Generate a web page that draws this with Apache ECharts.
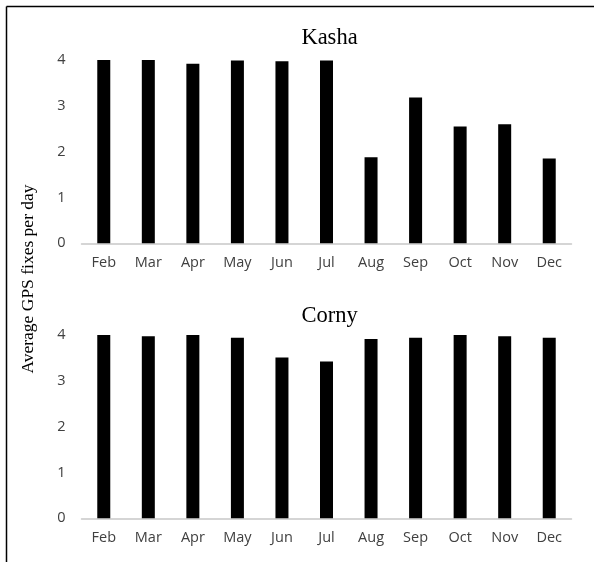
<!DOCTYPE html>
<html>
<head>
<meta charset="utf-8">
<script src="https://cdn.jsdelivr.net/npm/echarts@6/dist/echarts.min.js"></script>
<style>
html,body{margin:0;padding:0;background:#fff;}
#chart{width:594px;height:562px;}
</style>
</head>
<body>
<div id="chart"></div>
<script>
const months = ['Feb','Mar','Apr','May','Jun','Jul','Aug','Sep','Oct','Nov','Dec'];
const kasha = [4.0, 4.0, 3.92, 3.99, 3.97, 3.99, 1.88, 3.18, 2.55, 2.60, 1.85];
const corny = [4.0, 3.97, 4.0, 3.94, 3.51, 3.42, 3.91, 3.94, 4.0, 3.97, 3.94];
const yTicks = [0, 1, 2, 3, 4];
const panelTitles = ['Kasha', 'Corny'];
const yAxisTitle = 'Average GPS fixes per day';

const chart = echarts.init(document.getElementById('chart'), null, {renderer: 'canvas'});

const labelFont = {color: '#404040', fontFamily: 'Open Sans, Liberation Sans, sans-serif', fontSize: 14.5};

function xAxis(idx) {
  return {
    type: 'category', gridIndex: idx, data: months,
    axisLine: {show: true, lineStyle: {color: '#c8c8c8', width: 1.5}},
    axisTick: {show: false},
    axisLabel: Object.assign({margin: 12.5}, labelFont),
    splitLine: {show: false}
  };
}
function yAxis(idx) {
  return {
    type: 'value', gridIndex: idx, min: yTicks[0], max: yTicks[yTicks.length - 1], interval: 1,
    axisLine: {show: false}, axisTick: {show: false},
    axisLabel: Object.assign({margin: 16}, labelFont),
    splitLine: {show: false}
  };
}

const serif = '"Liberation Serif", "Times New Roman", serif';

chart.setOption({
  animation: false,
  backgroundColor: '#fff',
  grid: [
    {left: 81.5, right: 22.5, top: 60, bottom: 318.7},
    {left: 81.5, right: 22.5, top: 335, bottom: 43.7}
  ],
  xAxis: [xAxis(0), xAxis(1)],
  yAxis: [yAxis(0), yAxis(1)],
  series: [
    {type: 'bar', xAxisIndex: 0, yAxisIndex: 0, data: kasha, barWidth: 13, itemStyle: {color: '#000'}},
    {type: 'bar', xAxisIndex: 1, yAxisIndex: 1, data: corny, barWidth: 13, itemStyle: {color: '#000'}}
  ],
  graphic: [
    {type: 'line', shape: {x1: 6.5, y1: 6.5, x2: 594, y2: 6.5}, style: {stroke: '#000', lineWidth: 1.5}},
    {type: 'line', shape: {x1: 6.5, y1: 6.5, x2: 6.5, y2: 562}, style: {stroke: '#000', lineWidth: 1.5}},
    {type: 'text', x: 329.5, y: 37.6,
     style: {text: panelTitles[0], fill: '#000', font: '22.5px ' + serif, textAlign: 'center', textVerticalAlign: 'middle'}},
    {type: 'text', x: 329.5, y: 316,
     style: {text: panelTitles[1], fill: '#000', font: '22.5px ' + serif, textAlign: 'center', textVerticalAlign: 'middle'}},
    {type: 'text', x: 28, y: 279, rotation: Math.PI / 2,
     style: {text: yAxisTitle, fill: '#000', font: '17.5px ' + serif, textAlign: 'center', textVerticalAlign: 'middle'}}
  ]
});
</script>
</body>
</html>
